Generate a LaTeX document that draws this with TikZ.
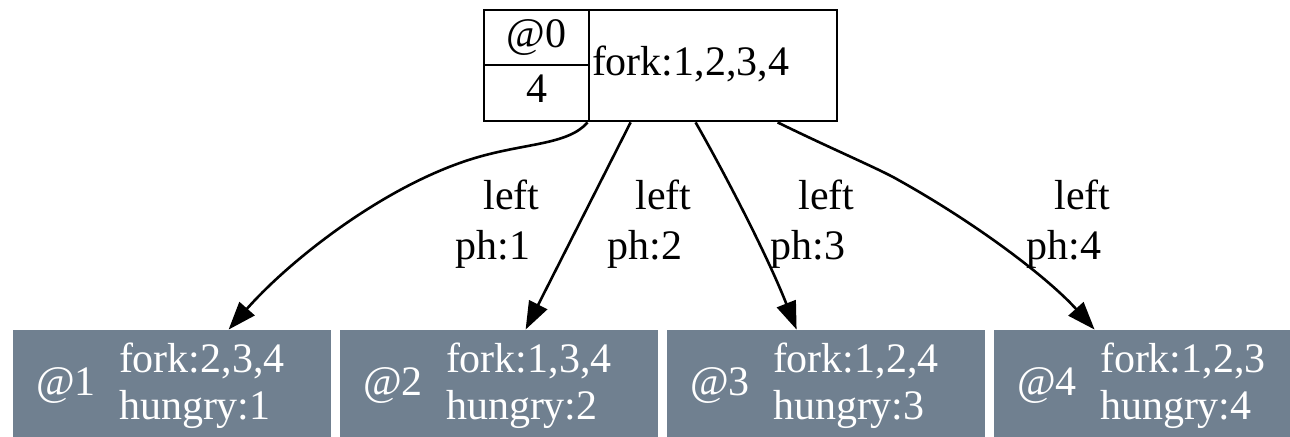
\documentclass[tikz,border=0pt]{standalone}
\usepackage{fontspec}
\setmainfont{Liberation Serif}
\usepackage{tikz}
\usetikzlibrary{arrows.meta,calc}
\definecolor{slate}{HTML}{708090}

\tikzset{
  cell/.style={draw, line width=1.4pt, inner sep=0pt, text height=14pt, text depth=4pt},
  phil/.style={fill=slate, minimum width=159pt, minimum height=56pt, inner sep=0pt},
  philtxt/.style={text=white, inner sep=0pt},
  edgelbl/.style={inner sep=0pt, align=left},
  fk/.style={line width=1.3pt, -{Triangle[length=14pt,width=10pt]}}
}

\begin{document}
\begin{tikzpicture}[x=0.5pt, y=-0.5pt, font=\fontsize{21}{25}\selectfont]
 \clip (0,0) rectangle (1290,437);
 % the record at the top
 \node[cell, minimum width=52.5pt, minimum height=27.5pt] (at0) at (536.5,37.5) {@0};
 \node[cell, minimum width=52.5pt, minimum height=28pt] (cnt) at (536.5,93) {4};
 \node[cell, text width=121pt, inner xsep=1.5pt, minimum height=55.5pt] (forks) at (713,65.5) {fork:1,2,3,4};
 % philosophers
 \node[phil] (p1) at (172,386) {};
 \node[phil] (p2) at (499,386) {};
 \node[phil] (p3) at (826,386) {};
 \node[phil] (p4) at (1153,386) {};
 \node[philtxt, anchor=base west] (p1id) at ($(p1.west)+(23,10)$) {@1};
 \node[philtxt, anchor=base west] (p2id) at ($(p2.west)+(23,10)$) {@2};
 \node[philtxt, anchor=base west] (p3id) at ($(p3.west)+(23,10)$) {@3};
 \node[philtxt, anchor=base west] (p4id) at ($(p4.west)+(23,10)$) {@4};
 \begin{scope}[every node/.style={philtxt, anchor=west, align=left, font=\fontsize{21}{23.5}\selectfont}]
  \node (p1st) at ($(p1.west)+(106,0)$) {fork:2,3,4\\hungry:1};
  \node (p2st) at ($(p2.west)+(106,0)$) {fork:1,3,4\\hungry:2};
  \node (p3st) at ($(p3.west)+(106,0)$) {fork:1,2,4\\hungry:3};
  \node (p4st) at ($(p4.west)+(106,0)$) {fork:1,2,3\\hungry:4};
 \end{scope}
 % edges
 \draw[fk] (forks.south west) .. controls (568,145) and (525,143) .. (475,158)
   .. controls (385,185) and (290,260) .. ($(p1.north west)+(216,0)$);
 \draw[fk] ($(forks.south west)+(43,0)$) -- ($(p2.north west)+(186,0)$);
 \draw[fk] ($(forks.south west)+(108,0)$) .. controls (720,165) and (765,250) .. ($(p3.north west)+(130,0)$);
 \draw[fk] ($(forks.south west)+(190,0)$) .. controls (830,148) and (870,165) .. (893,177)
   .. controls (980,225) and (1050,280) .. ($(p4.north west)+(101,0)$);
 % edge labels (base is the last line)
 \node[edgelbl, anchor=base west] (l1) at (455,260) {\hspace*{14pt}left\\ph:1};
 \node[edgelbl, anchor=base west] (l2) at (607,260) {\hspace*{14pt}left\\ph:2};
 \node[edgelbl, anchor=base west] (l3) at (770,260) {\hspace*{14pt}left\\ph:3};
 \node[edgelbl, anchor=base west] (l4) at (1026,260) {\hspace*{14pt}left\\ph:4};
\end{tikzpicture}
\end{document}
